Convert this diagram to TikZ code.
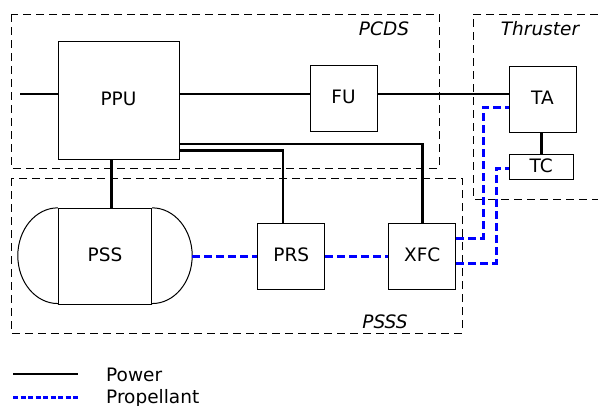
\documentclass[tikz,border=0pt]{standalone}
\usepackage{fontspec}
\setmainfont{DejaVu Sans}
\usetikzlibrary{calc}
\begin{document}
\begin{tikzpicture}[x=1pt,y=-1pt,
  lbl/.style={font=\fontsize{18.5}{22}\selectfont, inner sep=0pt},
  blk/.style={draw, line width=1pt, inner sep=0pt, lbl, text depth=0.3em},
  pwr/.style={line width=2.9pt},
  prop/.style={line width=3pt, blue, dash pattern=on 8pt off 4pt},
  grp/.style={draw, line width=0.9pt, dash pattern=on 8pt off 5pt},
  gl/.style={font=\fontsize{18.5}{22}\selectfont\itshape, inner sep=0pt}]
\useasboundingbox (0,0) rectangle (598,405);
% groups
\draw[grp] (11,14) rectangle (439,168);
\draw[grp] (11,178) rectangle (462,333);
\draw[grp] (598,14) -- (473,14) -- (473,199) -- (598,199);
\node[gl] (lPCDS) at (384,29) {PCDS};
\node[gl] (lThr) at (540,29) {Thruster};
\node[gl] (lPSSS) at (385,322) {PSSS};
% blocks
\node[blk, minimum width=121pt, minimum height=118pt] (PPU) at (118.5,100) {PPU};
\node[blk, minimum width=67pt, minimum height=66pt] (FU) at (343.5,98) {FU};
\node[blk, minimum width=67pt, minimum height=66pt] (TA) at (542.5,99) {TA};
\node[blk, minimum width=64pt, minimum height=25pt] (TC) at (541.3,166.7) {TC};
\node[blk, minimum width=93.4pt, minimum height=95.7pt] (PSS) at (105,256.2) {PSS};
\node[blk, minimum width=67.3pt, minimum height=66pt] (PRS) at (291.3,256.2) {PRS};
\node[blk, minimum width=67.3pt, minimum height=66pt] (XFC) at (422.3,256.2) {XFC};
\draw[line width=1pt] (PSS.north west) arc[start angle=90, end angle=270, x radius=40pt, y radius=47.85pt];
\draw[line width=1pt] (PSS.north east) arc[start angle=90, end angle=-90, x radius=40pt, y radius=47.85pt];
% power
\coordinate (pin) at (20,94);
\draw[pwr] (pin) -- (pin -| PPU.west);
\draw[pwr] (pin -| PPU.east) -- (pin -| FU.west);
\draw[pwr] (pin -| FU.east) -- (pin -| TA.west);
\coordinate (ppuS) at ($(PPU.south)+(-6.8pt,0)$);
\draw[pwr] (ppuS) -- (ppuS |- PSS.north);
\coordinate (y1) at (0,144);
\draw[pwr] (PPU.east |- y1) -| (XFC.north);
\coordinate (y2) at (283,150.5);
\draw[pwr] (PPU.east |- y2) -| (y2 |- PRS.north);
\draw[pwr] (TA.south -| TC.north) -- (TC.north);
% propellant
\coordinate (pssR) at ($(PSS.east)+(40pt,0)$);
\draw[prop] (pssR) -- (pssR -| PRS.west);
\draw[prop] (PRS.east) -- (XFC.west);
\coordinate (b1) at (483,238);
\coordinate (b1t) at (483,107);
\draw[prop] (XFC.east |- b1) -- (b1) -- (b1t) -- (b1t -| TA.west);
\coordinate (b2) at (496,263);
\coordinate (b2t) at (496,168);
\draw[prop] (XFC.east |- b2) -- (b2) -- (b2t) -- (b2t -| TC.west);
% legend
\coordinate (lp1) at (13,374);
\coordinate (lp2) at (78,374);
\draw[pwr] (lp1) -- (lp2);
\coordinate (lq1) at (13,397);
\coordinate (lq2) at (78,397);
\draw[prop, dash pattern=on 5pt off 2.5pt] (lq1) -- (lq2);
\node[lbl, anchor=base west] (tPow) at (106,381.7) {Power};
\node[lbl, anchor=base west] (tProp) at (106,403.5) {Propellant};
\end{tikzpicture}
\end{document}
